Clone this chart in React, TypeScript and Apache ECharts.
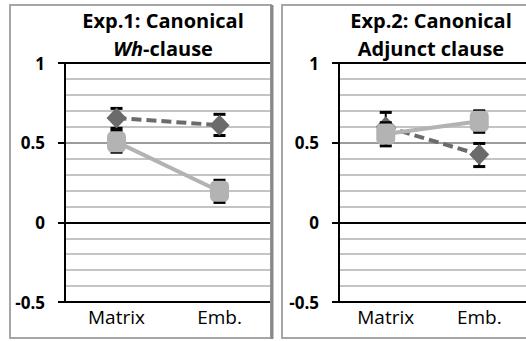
import React, { useEffect, useRef } from "react";
import * as echarts from "echarts";

const categories = ["Matrix", "Emb."];
const yTicks = [-0.5, 0, 0.5, 1];

// Exp.1
const exp1Diamond = [0.655, 0.61];
const exp1DiamondLow = [0.59, 0.545];
const exp1DiamondHigh = [0.715, 0.678];
const exp1Square = [0.505, 0.195];
const exp1SquareLow = [0.44, 0.125];
const exp1SquareHigh = [0.575, 0.264];

// Exp.2
const exp2Diamond = [0.6, 0.425];
const exp2DiamondLow = [0.515, 0.35];
const exp2DiamondHigh = [0.69, 0.495];
const exp2Square = [0.555, 0.635];
const exp2SquareLow = [0.48, 0.565];
const exp2SquareHigh = [0.625, 0.7];

const DARK = "#6b6b6b";
const LIGHT = "#b3b3b3";
const FONT = "Open Sans";

function errData(lo: number[], hi: number[]) {
  return lo.map((l, i) => [i, l, hi[i]]);
}

function errSeries(idx: number, lo: number[], hi: number[], z: number) {
  return {
    type: "custom",
    xAxisIndex: idx,
    yAxisIndex: idx,
    z,
    data: errData(lo, hi),
    renderItem: (params: any, api: any) => {
      const x = api.value(0);
      const top = api.coord([x, api.value(2)]);
      const bot = api.coord([x, api.value(1)]);
      const hw = 6;
      return {
        type: "group",
        children: [
          { type: "line", shape: { x1: top[0], y1: top[1], x2: bot[0], y2: bot[1] }, style: { stroke: "#000", lineWidth: 2 } },
          { type: "line", shape: { x1: top[0] - hw, y1: top[1], x2: top[0] + hw, y2: top[1] }, style: { stroke: "#000", lineWidth: 3 } },
          { type: "line", shape: { x1: bot[0] - hw, y1: bot[1], x2: bot[0] + hw, y2: bot[1] }, style: { stroke: "#000", lineWidth: 3 } },
        ],
      };
    },
  };
}

function lineSeries(idx: number, data: number[], dashed: boolean, z: number) {
  return {
    type: "line",
    xAxisIndex: idx,
    yAxisIndex: idx,
    z,
    data,
    symbol: dashed ? "diamond" : "roundRect",
    symbolSize: dashed ? [20, 21] : [19, 21],
    itemStyle: { color: dashed ? DARK : LIGHT },
    lineStyle: { color: dashed ? DARK : LIGHT, width: 4, type: dashed ? [10, 5] : "solid" },
  };
}

function xAxis(gridIndex: number) {
  return {
    type: "category",
    gridIndex,
    data: categories,
    axisLine: { show: true, lineStyle: { color: "#000", width: 2 } },
    axisTick: { show: false },
    axisLabel: { fontFamily: FONT, fontSize: 19, color: "#000", margin: 5 },
    splitLine: { show: false },
  };
}

function yAxis(gridIndex: number) {
  return {
    type: "value",
    gridIndex,
    min: yTicks[0],
    max: yTicks[yTicks.length - 1],
    interval: 0.5,
    axisLine: { show: true, lineStyle: { color: "#000", width: 2 } },
    axisTick: { show: true, length: 7, lineStyle: { color: "#000", width: 2 } },
    axisLabel: {
      fontFamily: FONT,
      fontSize: 17,
      fontWeight: "bold",
      color: "#000",
      margin: 20,
      formatter: (v: number) => String(v),
    },
    splitLine: { show: true, lineStyle: { color: ["#000", "#9c9c9c", "#9c9c9c", "#000"], width: 2 } },
    minorTick: { show: false, splitNumber: 5 },
    minorSplitLine: { show: true, lineStyle: { color: "#c4c4c4", width: 2 } },
  };
}

function titleText(x: number, y: number, text: string) {
  return {
    type: "text",
    z: 100,
    x,
    y,
    style: {
      text,
      fontFamily: FONT,
      fontSize: 20,
      fontWeight: "bold",
      fill: "#000",
      textAlign: "center",
      textVerticalAlign: "middle",
      rich: {
        i: { fontFamily: FONT, fontSize: 20, fontWeight: "bold", fontStyle: "italic" },
      },
    },
  };
}

export default function App() {
  const ref = useRef<HTMLDivElement>(null);
  useEffect(() => {
    if (!ref.current) return;
    const chart = echarts.init(ref.current, null, { renderer: "svg" });
    chart.setOption({
      animation: false,
      backgroundColor: "#fff",
      grid: [
        { left: 65, top: 63, width: 206, height: 239 },
        { left: 339, top: 63, width: 206, height: 239 },
      ],
      xAxis: [xAxis(0), xAxis(1)],
      yAxis: [yAxis(0), yAxis(1)],
      series: [
        errSeries(0, exp1DiamondLow, exp1DiamondHigh, 1),
        lineSeries(0, exp1Diamond, true, 2),
        errSeries(0, exp1SquareLow, exp1SquareHigh, 3),
        lineSeries(0, exp1Square, false, 4),
        errSeries(1, exp2DiamondLow, exp2DiamondHigh, 1),
        lineSeries(1, exp2Diamond, true, 2),
        errSeries(1, exp2SquareLow, exp2SquareHigh, 3),
        lineSeries(1, exp2Square, false, 4),
      ],
      graphic: [
        { type: "rect", z: 100, shape: { x: 10, y: 5, width: 261, height: 333 }, style: { fill: "none", stroke: "#a6a6a6", lineWidth: 2 } },
        { type: "line", z: 100, shape: { x1: 272, y1: 5, x2: 272, y2: 339 }, style: { stroke: "#888", lineWidth: 3 } },
        { type: "rect", z: 100, shape: { x: 282, y: 5, width: 260, height: 333 }, style: { fill: "none", stroke: "#a6a6a6", lineWidth: 2 } },
        titleText(163, 20.5, "Exp.1: Canonical"),
        titleText(163, 48, "{i|Wh}-clause"),
        titleText(431, 20.5, "Exp.2: Canonical"),
        titleText(431, 48, "Adjunct clause"),
      ],
    });
    return () => chart.dispose();
  }, []);
  return <div ref={ref} style={{ position: "fixed", left: 0, top: 0, width: 526, height: 341 }} />;
}
